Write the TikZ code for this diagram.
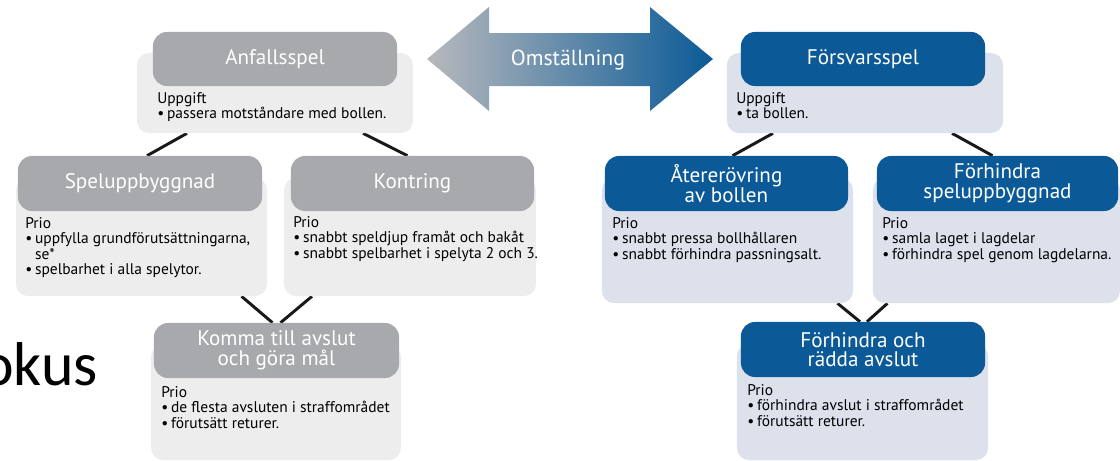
\documentclass[tikz,border=0pt]{standalone}
\usepackage{fontspec}
\setmainfont{PT Sans}
\newfontfamily\rubrikfont{Carlito}
\usepackage{tikz}
\usetikzlibrary{calc,backgrounds}
\definecolor{anfgra}{HTML}{A7A9AC}
\definecolor{anfljus}{HTML}{EDEDED}
\definecolor{forsbla}{HTML}{0B5A97}
\definecolor{forsljus}{HTML}{DCE1EC}
\definecolor{pilgra}{HTML}{B7B9BC}
\newcommand{\pkt}{\makebox[7pt][l]{\textbullet}}
\newcommand{\ind}{\hspace*{7pt}}

\begin{document}
\begin{tikzpicture}
	[x=0.025cm, y=-0.025cm, inner sep=0pt,
	head/.style		= {rectangle, rounded corners=0.35cm, minimum width=6.1cm, minimum height=1.375cm, text=white, align=center, font=\fontsize{15}{14}\selectfont},
	grayhead/.style	= {head, fill=anfgra},
	bluehead/.style	= {head, fill=forsbla},
	body/.style		= {rectangle, rounded corners=0.3cm},
	graybody/.style	= {body, fill=anfljus},
	bluebody/.style	= {body, fill=forsljus},
	bodytext/.style	= {anchor=north west, align=left, font=\fontsize{11}{11}\selectfont},
	link/.style		= {line width=2.1pt, black!90}]
	
	\useasboundingbox (0,0) rectangle (1120,461);
	
	% omstallning
	\shade [left color=pilgra, right color=forsbla] (427,59) -- (489,7) -- (489,33) -- (650,33) -- (650,7) -- (713,59) -- (650,111) -- (650,86) -- (489,86) -- (489,111) -- cycle;
	\node at (568,60) [text=white, font=\fontsize{15.5}{14}\selectfont] (omst) {Omställning};
	
	\node at (-19,385) [anchor=base west, font=\rubrikfont\fontsize{44}{44}\selectfont] (fokus) {okus};
	
	% anfallsspel
	\node at (275, 93)		[graybody, minimum width=6.9cm, minimum height=2cm]			(anfbody)	{};
	\node at (141.5, 237)	[graybody, minimum width=6.275cm, minimum height=2.95cm]	(spelbody)	{};
	\node at (410, 237)		[graybody, minimum width=6.3cm, minimum height=2.95cm]		(konbody)	{};
	\node at (276, 402.5)	[graybody, minimum width=6.25cm, minimum height=2.875cm]	(kombody)	{};
	
	\node at (275, 59)		[grayhead, minimum height=1.35cm]	(anfhead)	{Anfallsspel};
	\node at (140, 183.5)	[grayhead]							(spelhead)	{Speluppbyggnad};
	\node at (412.5, 183.5)	[grayhead, minimum width=6.075cm]	(konhead)	{Kontring};
	\node at (276.5, 350.5)	[grayhead, minimum width=6.125cm]	(komhead)	{Komma till avslut\\och göra mål};
	
	\node at (157, 92)		[bodytext]	(anftext)	{Uppgift\\ \pkt passera motståndare med bollen.};
	\node at (25, 217)		[bodytext]	(speltext)	{Prio\\ \pkt uppfylla grundförutsättningarna,\\ \ind se*\\ \pkt spelbarhet i alla spelytor.};
	\node at (293, 216)		[bodytext]	(kontext)	{Prio\\ \pkt snabbt speldjup framåt och bakåt\\ \pkt snabbt spelbarhet i spelyta 2 och 3.};
	\node at (161, 386)		[bodytext]	(komtext)	{Prio\\ \pkt de flesta avsluten i straffområdet\\ \pkt förutsätt returer.};
	
	% forsvarsspel
	\node at (865, 93)		[bluebody, minimum width=6.9cm, minimum height=2cm]			(forsbody)	{};
	\node at (727.5, 240.5)	[bluebody, minimum width=6.275cm, minimum height=3.125cm]	(aterbody)	{};
	\node at (996.5, 240.5)	[bluebody, minimum width=6.175cm, minimum height=3.125cm]	(forhbody)	{};
	\node at (862.5, 402)	[bluebody, minimum width=6.275cm, minimum height=2.9cm]		(frbody)	{};
	
	\node at (863, 59)		[bluehead, minimum height=1.35cm]	(forshead)	{Försvarsspel};
	\node at (726.5, 183.5)	[bluehead, minimum width=6.075cm]	(aterhead)	{Återerövring\\av bollen};
	\node at (997.5, 183.5)	[bluehead, minimum width=6.025cm]	(forhhead)	{Förhindra\\speluppbyggnad};
	\node at (863, 349.5)	[bluehead]							(frhead)	{Förhindra och\\rädda avslut};
	
	\node at (736, 92)		[bodytext]	(forstext)	{Uppgift\\ \pkt ta bollen.};
	\node at (612, 217)		[bodytext]	(atertext)	{Prio\\ \pkt snabbt pressa bollhållaren\\ \pkt snabbt förhindra passningsalt.};
	\node at (882, 217)		[bodytext]	(forhtext)	{Prio\\ \pkt samla laget i lagdelar\\ \pkt förhindra spel genom lagdelarna.};
	\node at (747, 384)		[bodytext]	(frtext)	{Prio\\ \pkt förhindra avslut i straffområdet\\ \pkt förutsätt returer.};
	
	\begin{scope}[on background layer]
	\draw [link] ($(anfbody.south)+(-88,0)$) -- ($(spelhead.north)+(7,0)$);
	\draw [link] ($(anfbody.south)+(88,0)$) -- ($(konhead.north)+(-5,0)$);
	\draw [link] ($(spelbody.south)+(100,0)$) -- ($(komhead.north)+(-4,0)$);
	\draw [link] ($(konbody.south)+(-98,0)$) -- ($(komhead.north)+(4,0)$);
	\draw [link] ($(forsbody.south)+(-92,0)$) -- ($(aterhead.north)+(6,0)$);
	\draw [link] ($(forsbody.south)+(87,0)$) -- ($(forhhead.north)+(-5,0)$);
	\draw [link] ($(aterbody.south)+(110,0)$) -- ($(frhead.north)+(-3,0)$);
	\draw [link] ($(forhbody.south)+(-109,0)$) -- ($(frhead.north)+(4,0)$);
	\end{scope}
	
\end{tikzpicture}
\end{document}
